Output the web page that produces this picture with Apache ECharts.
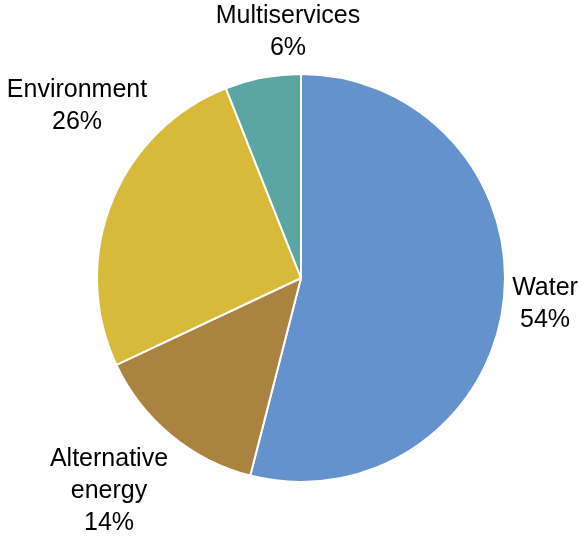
<!DOCTYPE html>
<html>
<head>
<meta charset="utf-8">
<script src="https://cdn.jsdelivr.net/npm/echarts@6/dist/echarts.min.js"></script>
<style>
  html, body { margin: 0; padding: 0; background: #fff; }
  #chart { width: 578px; height: 536px; }
</style>
</head>
<body>
<div id="chart"></div>
<script>
// sectors, clockwise from 12 o'clock
const names = ['Water', 'Alternative\nenergy', 'Environment', 'Multiservices']
const shares = [54, 14, 26, 6]
const colors = ['#6592CD', '#AB8340', '#D8BA3A', '#5BA5A3']
// where each label block sits (centre of text), best-fit placement
const labelSpots = [[545, 304], [109, 491], [77, 106], [288, 32]]

const chart = echarts.init(document.getElementById('chart'))

chart.setOption({
  backgroundColor: '#fff',
  animation: false,
  series: [{
    type: 'pie',
    center: [301, 278],
    radius: [0, 204],
    startAngle: 90,
    clockwise: true,
    data: names.map((n, i) => ({
      name: n,
      value: shares[i],
      itemStyle: { color: colors[i] }
    })),
    itemStyle: {
      borderColor: '#fff',
      borderWidth: 2
    },
    label: {
      show: true,
      position: 'inside',
      formatter: p => p.name + '\n' + p.value + '%',
      fontFamily: 'Liberation Sans, Arial, sans-serif',
      fontSize: 25,
      lineHeight: 32,
      color: '#000',
      align: 'center'
    },
    labelLine: { show: false },
    labelLayout: params => ({
      x: labelSpots[params.dataIndex][0],
      y: labelSpots[params.dataIndex][1],
      align: 'center',
      verticalAlign: 'middle'
    })
  }]
})
</script>
</body>
</html>
